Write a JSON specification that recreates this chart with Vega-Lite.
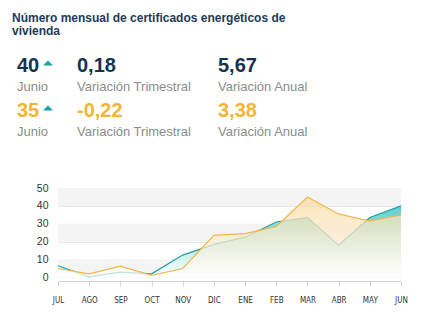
{
  "$schema": "https://vega.github.io/schema/vega-lite/v6.json",
  "width": 343,
  "height": 93,
  "autosize": "none",
  "padding": {"left": 58, "top": 188, "right": 36, "bottom": 42},
  "config": {
    "view": {"stroke": null},
    "font": "Liberation Sans",
    "axisY": {"tickCount": 6, "title": null, "domain": false, "ticks": false, "grid": true, "gridColor": "#e8e8e8", "gridWidth": 1, "labelFont": "Liberation Sans", "labelFontSize": 10.5, "labelColor": "#333333", "labelPadding": 10, "labelOverlap": false, "labelBound": false},
    "axisX": {"title": null, "labelAngle": 0, "domainColor": "#d4d4d4", "tickColor": "#d4d4d4", "tickSize": 5, "labelPadding": 10, "labelFont": "DejaVu Sans Condensed, Liberation Sans, sans-serif", "labelFontSize": 8, "labelColor": "#333333", "labelBound": false, "labelOverlap": false, "grid": false}
  },
  "title": {
    "text": ["Número mensual de certificados energéticos de", "vivienda"],
    "anchor": "start",
    "frame": "group",
    "dx": -46,
    "offset": 18,
    "fontSize": 12,
    "fontWeight": "bold",
    "color": "#1d3a5c",
    "lineHeight": 13.5,
    "font": "Liberation Sans"
  },
  "layer": [
    {
      "data": {
        "values": [
          {"month": "JUL", "serie": "A", "value": 6.5},
          {"month": "AGO", "serie": "A", "value": 0.3},
          {"month": "SEP", "serie": "A", "value": 3},
          {"month": "OCT", "serie": "A", "value": 2},
          {"month": "NOV", "serie": "A", "value": 12.5},
          {"month": "DIC", "serie": "A", "value": 18.5},
          {"month": "ENE", "serie": "A", "value": 22.5},
          {"month": "FEB", "serie": "A", "value": 31},
          {"month": "MAR", "serie": "A", "value": 33.5},
          {"month": "ABR", "serie": "A", "value": 18},
          {"month": "MAY", "serie": "A", "value": 33.5},
          {"month": "JUN", "serie": "A", "value": 40},
          {"month": "JUL", "serie": "B", "value": 5},
          {"month": "AGO", "serie": "B", "value": 2},
          {"month": "SEP", "serie": "B", "value": 6.3},
          {"month": "OCT", "serie": "B", "value": 1.2},
          {"month": "NOV", "serie": "B", "value": 5},
          {"month": "DIC", "serie": "B", "value": 23.5},
          {"month": "ENE", "serie": "B", "value": 24.5},
          {"month": "FEB", "serie": "B", "value": 28.5},
          {"month": "MAR", "serie": "B", "value": 45},
          {"month": "ABR", "serie": "B", "value": 35.5},
          {"month": "MAY", "serie": "B", "value": 31.5},
          {"month": "JUN", "serie": "B", "value": 35}
        ]
      },
      "layer": [
        {
          "data": {"values": [{"lo": 40, "hi": 50}, {"lo": 20, "hi": 30}, {"lo": 0, "hi": 10}]},
          "mark": {"type": "rect", "color": "#f4f4f4"},
          "encoding": {
            "y": {"field": "lo", "type": "quantitative", "scale": {"domain": [-2, 50], "nice": false, "zero": false}, "axis": {"values": [0, 10, 20, 30, 40, 50]}},
            "y2": {"field": "hi"}
          }
        },
        {
          "transform": [{"filter": "datum.serie === 'A'"}],
          "mark": {"type": "area", "line": false, "color": {"gradient": "linear", "x1": 0, "y1": 0, "x2": 0, "y2": 1, "stops": [{"offset": 0, "color": "#5ccfce"}, {"offset": 1, "color": "#ffffff"}]}},
          "encoding": {
            "x": {"field": "month", "type": "ordinal", "sort": ["JUL","AGO","SEP","OCT","NOV","DIC","ENE","FEB","MAR","ABR","MAY","JUN"], "scale": {"type": "point", "padding": 0}},
            "y": {"field": "value", "type": "quantitative", "axis": {"values": [0, 10, 20, 30, 40, 50]}}
          }
        },
        {
          "transform": [{"filter": "datum.serie === 'A'"}],
          "mark": {"type": "line", "color": "#22a0a4", "strokeWidth": 1.2},
          "encoding": {
            "x": {"field": "month", "type": "ordinal", "sort": ["JUL","AGO","SEP","OCT","NOV","DIC","ENE","FEB","MAR","ABR","MAY","JUN"]},
            "y": {"field": "value", "type": "quantitative", "axis": {"values": [0, 10, 20, 30, 40, 50]}}
          }
        },
        {
          "transform": [{"filter": "datum.serie === 'B'"}],
          "mark": {"type": "area", "line": false, "color": {"gradient": "linear", "x1": 0, "y1": 0, "x2": 0, "y2": 1, "stops": [{"offset": 0, "color": "rgba(250,216,158,0.72)"}, {"offset": 1, "color": "rgba(255,255,255,0.72)"}]}},
          "encoding": {
            "x": {"field": "month", "type": "ordinal", "sort": ["JUL","AGO","SEP","OCT","NOV","DIC","ENE","FEB","MAR","ABR","MAY","JUN"]},
            "y": {"field": "value", "type": "quantitative", "axis": {"values": [0, 10, 20, 30, 40, 50]}}
          }
        },
        {
          "transform": [{"filter": "datum.serie === 'B'"}],
          "mark": {"type": "line", "color": "#f0b848", "strokeWidth": 1.2},
          "encoding": {
            "x": {"field": "month", "type": "ordinal", "sort": ["JUL","AGO","SEP","OCT","NOV","DIC","ENE","FEB","MAR","ABR","MAY","JUN"]},
            "y": {"field": "value", "type": "quantitative", "axis": {"values": [0, 10, 20, 30, 40, 50]}}
          }
        }
      ]
    },
    {
      "data": {
        "values": [
          {"col": 1, "row": 1, "serie": "actual", "value": "40", "label": "Junio", "caret": true},
          {"col": 2, "row": 1, "serie": "actual", "value": "0,18", "label": "Variación Trimestral", "caret": false},
          {"col": 3, "row": 1, "serie": "actual", "value": "5,67", "label": "Variación Anual", "caret": false},
          {"col": 1, "row": 2, "serie": "anterior", "value": "35", "label": "Junio", "caret": true},
          {"col": 2, "row": 2, "serie": "anterior", "value": "-0,22", "label": "Variación Trimestral", "caret": false},
          {"col": 3, "row": 2, "serie": "anterior", "value": "3,38", "label": "Variación Anual", "caret": false}
        ]
      },
      "layer": [
        {
          "mark": {"type": "text", "align": "left", "baseline": "alphabetic", "fontSize": 20, "fontWeight": "bold", "font": "Liberation Sans"},
          "encoding": {
            "x": {"field": "col", "type": "quantitative", "scale": {"domain": [1, 2, 3], "range": [-41, 19, 160], "nice": false, "zero": false}, "axis": null},
            "y": {"field": "row", "type": "quantitative", "scale": {"domain": [1, 2], "range": [-116, -71], "nice": false, "zero": false}, "axis": null},
            "text": {"field": "value"},
            "color": {"field": "serie", "type": "nominal", "scale": {"domain": ["actual", "anterior"], "range": ["#17324f", "#f2b535"]}, "legend": null}
          }
        },
        {
          "mark": {"type": "text", "align": "left", "baseline": "alphabetic", "fontSize": 13, "dy": 19, "color": "#8c8c8c", "font": "Liberation Sans"},
          "encoding": {
            "x": {"field": "col", "type": "quantitative", "axis": null},
            "y": {"field": "row", "type": "quantitative", "axis": null},
            "text": {"field": "label"}
          }
        },
        {
          "transform": [{"filter": "datum.caret"}],
          "mark": {"type": "point", "shape": "M-1,0.5L0,-0.5L1,0.5Z", "filled": true, "size": 100, "opacity": 1, "color": "#1aa3a5", "xOffset": 31, "yOffset": -9},
          "encoding": {
            "x": {"field": "col", "type": "quantitative", "axis": null},
            "y": {"field": "row", "type": "quantitative", "axis": null}
          }
        }
      ]
    }
  ],
  "resolve": {"scale": {"x": "independent", "y": "independent"}}
}
